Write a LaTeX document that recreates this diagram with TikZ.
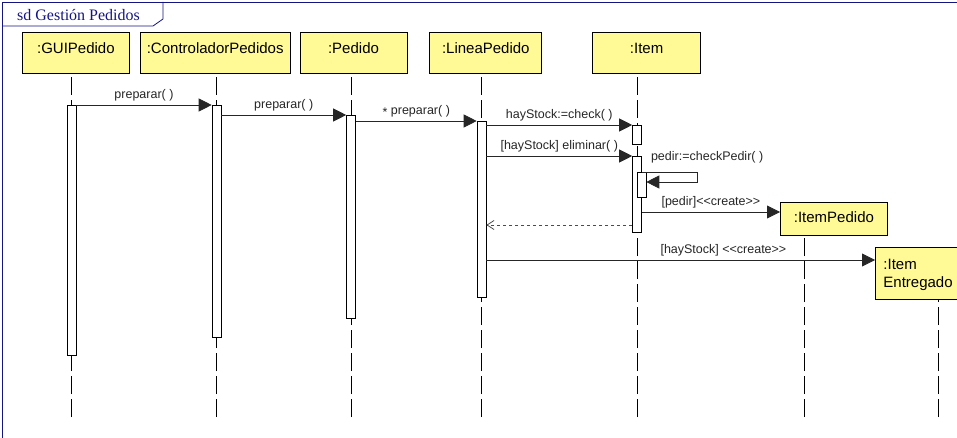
\documentclass[tikz,border=0pt]{standalone}
\usepackage{fontspec}
\setmainfont{Liberation Sans}
\newfontfamily\framefont{Liberation Serif}
\usetikzlibrary{positioning,arrows.meta}
\definecolor{headyellow}{RGB}{255,250,150}
\definecolor{framenavy}{RGB}{20,20,130}
\newcommand{\stereotype}[1]{<\kern0pt<#1>\kern0pt>}

\begin{document}
\begin{tikzpicture}[x=1pt, y=-1pt, font=\fontsize{12.5}{15}\selectfont,
    head node/.style={draw, fill=headyellow, line width=0.8pt, minimum height=41pt, text depth=10pt, inner sep=2pt, font=\fontsize{15}{18}\selectfont},
    bar node/.style={draw, fill=white, line width=0.6pt, minimum width=9pt, inner sep=0pt, anchor=north},
    life/.style={dash pattern=on 18pt off 5pt, line width=0.6pt},
    msg/.style={black!85, line width=0.8pt, -{Triangle[length=13pt,width=13pt]}},
    ret/.style={black!70, dashed, line width=0.8pt, -{Straight Barb[length=7pt,width=9pt]}}]
    \useasboundingbox (0,0) rectangle (957,438);
    % frame
    \draw[framenavy, line width=0.8pt] (2,438) -- (2,2) -- (957,2);
    \draw[framenavy, line width=0.8pt] (2,26) -- (153,26) -- (163,19) -- (163,2);
    \node[anchor=base west, text=framenavy, inner sep=0pt, font=\framefont\fontsize{16}{19}\selectfont] (title) at (17,21) {sd Gestión Pedidos};
    % objects
    \node[head node, minimum width=107pt, anchor=north west] (1) at (22,32) {:GUIPedido};
    \node[head node, minimum width=150pt, right=10pt of 1] (2) {:ControladorPedidos};
    \node[head node, minimum width=107pt, right=9pt of 2] (3) {:Pedido};
    \node[head node, minimum width=112pt, right=22pt of 3] (4) {:LineaPedido};
    \node[head node, minimum width=108pt, right=50pt of 4] (5) {:Item};
    \node[head node, minimum width=107pt, minimum height=33pt, text depth=3pt, anchor=north west] (6) at (780,202) {:ItemPedido};
    \node[head node, minimum height=52pt, text depth=19pt, inner xsep=8pt, text width=90pt, align=left, anchor=north west] (7) at (875,247) {:Item\\Entregado};
    % lifelines
    \coordinate (e1) at (71.5,417);
    \coordinate (e2) at (216.5,417);
    \coordinate (e3) at (351,417);
    \coordinate (e4) at (481.5,417);
    \coordinate (e5) at (637,417);
    \coordinate (e6) at (804,417);
    \coordinate (e7) at (938,417);
    \foreach \i in {1,...,7}
        \draw[life] (e\i) -- (\i.south -| e\i);
    % activations
    \node[bar node, minimum height=250pt] (b1) at (71.5,105) {};
    \node[bar node, minimum height=232pt] (b2) at (216.5,105) {};
    \node[bar node, minimum height=203pt] (b3) at (351,115) {};
    \node[bar node, minimum height=176pt] (b4) at (481.5,121) {};
    \node[bar node, minimum height=19pt] (b5) at (637,125) {};
    \node[bar node, minimum height=76pt] (b6) at (637,156) {};
    \node[bar node, minimum height=25pt] (b7) at (641.5,172) {};
    % messages
    \path[msg]
    (b1.north east) edge node[above] {preparar( )} (b2.north west)
    (b2.east |- b3.north) edge node[above] {preparar( )} (b3.north west)
    (b3.east |- b4.north) edge node[above] {\raisebox{-2pt}{*} preparar( )} (b4.north west)
    (b4.east |- b5.north) edge node[above] {hayStock:=check( )} (b5.north west)
    (b4.east |- b6.north) edge node[above] {[hayStock] eliminar( )} (b6.north west)
    (b6.east |- 0,212) edge node[above] {[pedir]\stereotype{create}} (6.west |- 0,212)
    (b4.east |- 0,260) edge node[above, pos=0.61] {[hayStock] \stereotype{create}} (7.west |- 0,260);
    \draw[msg] (b6.east |- b7.north) node[anchor=south west, xshift=5.5pt, yshift=5pt] {pedir:=checkPedir( )}
        -- ++(55.5,0) |- (b7.east |- 0,182);
    \draw[ret] (b6.west |- 0,225) -- (b4.east |- 0,225);
\end{tikzpicture}
\end{document}
